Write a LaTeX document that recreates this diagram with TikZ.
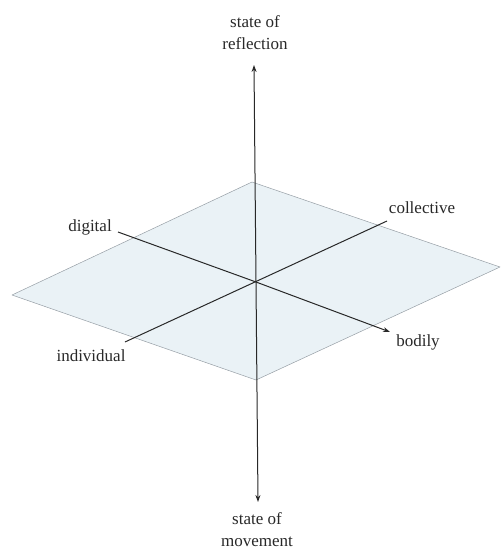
\documentclass[tikz,border=0pt]{standalone}
\usepackage{fontspec}
\setmainfont{Liberation Serif}
\usetikzlibrary{arrows.meta}
\definecolor{planefill}{RGB}{234,242,246}
\definecolor{planeedge}{RGB}{150,158,165}
\definecolor{axiscol}{RGB}{40,40,40}
\tikzset{
  plane/.style={fill=planefill, draw=planeedge, line width=0.5pt, line join=round},
  axis/.style={draw=axiscol, line width=1pt},
  axisarrow/.style={axis, -{Stealth[length=7pt,width=5pt]}},
  lbl/.style={inner sep=0pt, text=axiscol, font=\fontsize{17}{22}\selectfont, align=center}
}
\begin{document}
\begin{tikzpicture}[x=1pt,y=-1pt]
\useasboundingbox (0,0) rectangle (501,552);
% plane
\coordinate (T) at (252,182);
\coordinate (R) at (500,267);
\coordinate (B) at (256,380);
\coordinate (L) at (12,295);
\path[plane] (T) -- (R) -- (B) -- (L) -- cycle;
% axis ends
\coordinate (C) at (256,282);
\coordinate (up) at (254,65);
\coordinate (down) at (258,502);
\coordinate (dig) at (118,232);
\coordinate (bod) at (390,332);
\coordinate (ind) at (125,342);
\coordinate (col) at (387,221);
% axes
\draw[axis] (dig) -- (C);
\draw[axisarrow] (C) -- (bod);
\draw[axis] (ind) -- (col);
\draw[axisarrow] (C) -- (up);
\draw[axisarrow] (C) -- (down);
% labels
\node[lbl] (lref) at (255,33) {state of\\reflection};
\node[lbl] (lmov) at (257,530) {state of\\movement};
\node[lbl] (ldig) at (90,227) {digital};
\node[lbl] (lind) at (91,356) {individual};
\node[lbl] (lcol) at (422,208) {collective};
\node[lbl] (lbod) at (418,342) {bodily};
\end{tikzpicture}
\end{document}
